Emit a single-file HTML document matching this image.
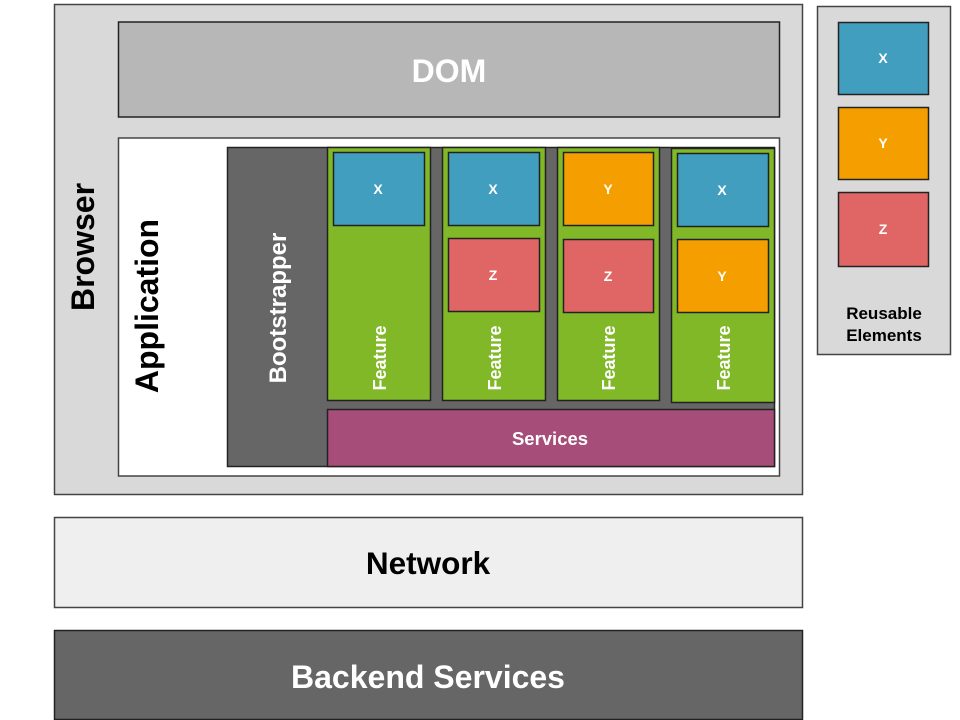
<!DOCTYPE html>
<html><head><meta charset="utf-8"><style>
html,body{margin:0;padding:0;background:#fff;width:960px;height:720px;overflow:hidden}
svg text{font-family:"Liberation Sans",Arial,sans-serif;font-weight:bold}
</style></head><body>
<svg width="960" height="720" viewBox="0 0 960 720" xmlns="http://www.w3.org/2000/svg">
<g stroke="#222" stroke-width="1.5">
<rect x="54.5" y="4.5" width="748" height="490" fill="#d9d9d9" stroke="#444"/>
<rect x="118.5" y="22" width="661" height="95" fill="#b7b7b7"/>
<rect x="118.5" y="138" width="661" height="338" fill="#fff" stroke="#444"/>
<rect x="227.5" y="147.5" width="547" height="319" fill="#666"/>
<rect x="327.5" y="147.5" width="103" height="253" fill="#80b827"/>
<rect x="442.5" y="147.5" width="103" height="253" fill="#80b827"/>
<rect x="557.5" y="147.5" width="102" height="253" fill="#80b827"/>
<rect x="671.5" y="148.5" width="103" height="254" fill="#80b827"/>
<rect x="333.5" y="152.5" width="91" height="73" fill="#429ebe"/>
<rect x="448.5" y="152.5" width="91" height="73" fill="#429ebe"/>
<rect x="448.5" y="238.5" width="91" height="73" fill="#e06666"/>
<rect x="563.5" y="152.5" width="90" height="73" fill="#f59e00"/>
<rect x="563.5" y="239.5" width="90" height="73" fill="#e06666"/>
<rect x="677.5" y="153.5" width="91" height="73" fill="#429ebe"/>
<rect x="677.5" y="239.5" width="91" height="73" fill="#f59e00"/>
<rect x="327.5" y="409.5" width="447" height="57" fill="#a64d79"/>
<rect x="817.5" y="6.5" width="133" height="348" fill="#d9d9d9" stroke="#444"/>
<rect x="838.5" y="22.5" width="90" height="72" fill="#429ebe"/>
<rect x="838.5" y="107.5" width="90" height="72" fill="#f59e00"/>
<rect x="838.5" y="192.5" width="90" height="74" fill="#e06666"/>
<rect x="54.5" y="517.5" width="748" height="90" fill="#efefef" stroke="#444"/>
<rect x="54.5" y="630.5" width="748" height="89" fill="#666" stroke="#222"/>
</g>
<g fill="#fff" text-anchor="middle">
<text x="449" y="82" font-size="32">DOM</text>
<g font-size="14"><text x="378" y="194">X</text><text x="493" y="194">X</text><text x="493" y="280">Z</text><text x="608" y="194">Y</text><text x="608" y="281">Z</text><text x="722" y="195">X</text><text x="722" y="281">Y</text>
<text x="883" y="63">X</text><text x="883" y="148">Y</text><text x="883" y="234">Z</text></g>
<text x="550" y="445" font-size="18.5">Services</text>
<text transform="translate(286,308) rotate(-90)" font-size="24">Bootstrapper</text>
<g font-size="18"><text transform="translate(386,358) rotate(-90)">Feature</text><text transform="translate(501,358) rotate(-90)">Feature</text><text transform="translate(615,358) rotate(-90)">Feature</text><text transform="translate(730,358) rotate(-90)">Feature</text></g>
<text x="428" y="688" font-size="32">Backend Services</text>
</g>
<g fill="#000" text-anchor="middle">
<text transform="translate(158,306) rotate(-90)" font-size="32">Application</text>
<text transform="translate(94,247) rotate(-90)" font-size="32">Browser</text>
<text x="428" y="574" font-size="31.5">Network</text>
<text x="884" y="319" font-size="17">Reusable</text>
<text x="884" y="341" font-size="17">Elements</text>
</g>
</svg>
</body></html>
